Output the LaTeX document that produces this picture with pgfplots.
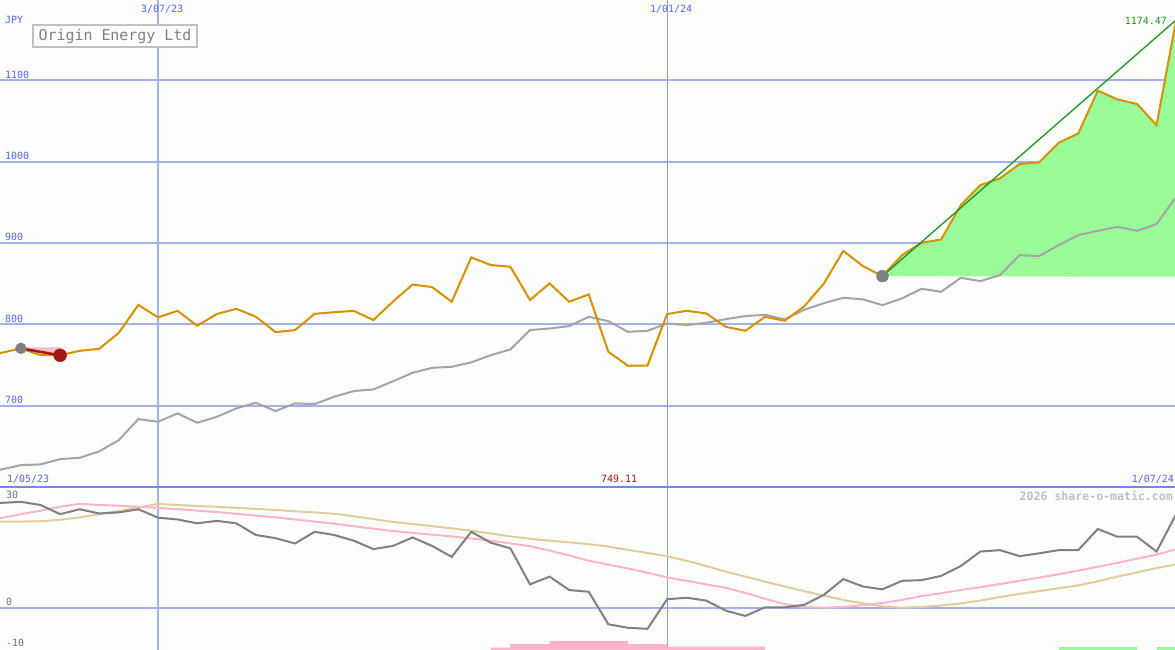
\documentclass[border=0pt]{standalone}
\usepackage{pgfplots}
\pgfplotsset{compat=1.18}
\usepackage{fontspec}
\setmonofont{DejaVu Sans Mono}
\definecolor{bg}{RGB}{252,254,252}
\definecolor{gridb}{RGB}{162,176,240}
\definecolor{gridt}{RGB}{140,156,244}
\definecolor{sepb}{RGB}{116,132,240}
\definecolor{lblb}{RGB}{84,100,240}
\definecolor{orng}{RGB}{214,144,0}
\definecolor{gry}{RGB}{164,164,164}
\definecolor{dgry}{RGB}{128,128,128}
\definecolor{pnk}{RGB}{255,180,204}
\definecolor{tanc}{RGB}{226,204,158}
\definecolor{lgreen}{RGB}{152,251,152}
\definecolor{dgreen}{RGB}{32,148,32}
\definecolor{dred}{RGB}{164,24,24}
\definecolor{lpink}{RGB}{255,184,200}
\definecolor{boxg}{RGB}{192,192,192}
\definecolor{wmk}{RGB}{192,192,192}
\definecolor{lblg}{RGB}{112,112,112}

\pgfplotstableread{
k v
-9 757
-8 765
-7 770.5
-6 762.2
-5 762
-4 767.5
-3 770
-2 789.7
-1 824
0 808.6
1 816.7
2 798.3
3 812.7
4 819.2
5 809.4
6 790.5
7 793
8 813
9 815
10 816.7
11 805.3
12 828
13 849
14 845.9
15 827.8
16 882.4
17 873
18 870.9
19 830
20 850.4
21 827.8
22 836.9
23 766.3
24 749.11
25 749.3
26 812.7
27 816.7
28 813.5
29 797
30 792.1
31 809.3
32 804.4
33 822
34 850
35 890.5
36 871.7
37 859.4
38 885.2
39 900.4
40 904.5
41 946.7
42 971.3
43 979.6
44 997.2
45 999.3
46 1023.4
47 1034.9
48 1087.5
49 1076.8
50 1071
51 1045.2
52 1174.47
}\price

\pgfplotstableread{
k v
-9 619
-8 621.6
-7 626.9
-6 627.8
-5 634.3
-4 635.9
-3 643.8
-2 657.7
-1 683.5
0 680.2
1 690.5
2 679
3 686.3
4 696.7
5 703.6
6 693.4
7 702.8
8 702
9 711
10 718
11 720
12 730
13 740.5
14 746.6
15 747.8
16 753.3
17 762.2
18 769.2
19 793
20 795
21 797.9
22 809.3
23 804
24 790.9
25 792.1
26 801.2
27 799.1
28 802
29 806.5
30 810.2
31 811.8
32 806.2
33 818
34 826
35 832.7
36 830.8
37 823.7
38 832
39 843.8
40 840.1
41 857.3
42 853.3
43 860.6
44 885.2
45 884
46 897.5
47 909.8
48 915.1
49 920
50 915.1
51 923.4
52 957
}\avg

\pgfplotstableread{
k v
-9 29.5
-8 29.7
-7 30.0
-6 29.1
-5 26.5
-4 27.9
-3 26.7
-2 27.0
-1 27.9
0 25.5
1 25.0
2 23.9
3 24.6
4 23.9
5 20.6
6 19.7
7 18.2
8 21.5
9 20.6
10 19.0
11 16.6
12 17.5
13 19.9
14 17.5
15 14.4
16 21.5
17 18.4
18 16.8
19 6.6
20 8.8
21 5.0
22 4.5
23 -4.7
24 -5.7
25 -6.0
26 2.4
27 2.8
28 2.0
29 -0.85
30 -2.35
31 0.1
32 0.1
33 0.8
34 3.6
35 8.1
36 6.0
37 5.2
38 7.6
39 7.8
40 9.0
41 11.8
42 15.9
43 16.3
44 14.6
45 15.4
46 16.3
47 16.3
48 22.3
49 20.1
50 20.1
51 15.9
52 26.5
}\osc

\pgfplotstableread{
k v
-9 24.5
-8 25.4
-7 26.5
-6 27.5
-5 28.6
-4 29.4
-3 29.1
-2 28.9
-1 28.6
0 28.3
1 27.9
2 27.5
3 27.1
4 26.6
5 26.1
6 25.6
7 25.0
8 24.4
9 23.8
10 23.1
11 22.4
12 21.7
13 21.2
14 20.7
15 20.2
16 19.6
17 19.0
18 18.2
19 17.4
20 16.2
21 14.8
22 13.3
23 12.2
24 11.1
25 9.9
26 8.6
27 7.6
28 6.6
29 5.6
30 4.2
31 2.5
32 1.0
33 0.2
34 0.0
35 0.2
36 0.7
37 1.3
38 2.2
39 3.3
40 4.1
41 5.0
42 5.8
43 6.7
44 7.6
45 8.5
46 9.5
47 10.5
48 11.6
49 12.7
50 13.9
51 15.0
52 16.6
}\pinkma

\pgfplotstableread{
k v
-9 24.4
-8 24.4
-7 24.4
-6 24.5
-5 24.9
-4 25.6
-3 26.5
-2 27.4
-1 28.4
0 29.4
1 29.1
2 28.8
3 28.6
4 28.3
5 28.0
6 27.7
7 27.3
8 27.0
9 26.6
10 25.9
11 25.1
12 24.3
13 23.7
14 23.1
15 22.5
16 21.8
17 21.0
18 20.2
19 19.5
20 19.0
21 18.5
22 18.0
23 17.3
24 16.4
25 15.5
26 14.6
27 13.3
28 11.8
29 10.2
30 8.8
31 7.4
32 6.0
33 4.7
34 3.4
35 2.2
36 1.2
37 0.4
38 0.0
39 0.2
40 0.6
41 1.2
42 2.0
43 3.0
44 3.9
45 4.7
46 5.5
47 6.3
48 7.5
49 8.8
50 10.0
51 11.2
52 12.3
}\tanma

\pgfplotsset{
  base/.style={
    scale only axis, width=1175bp, anchor=south west,
    xmin=-8.069, xmax=51.94,
    axis line style={draw=none}, tick style={draw=none},
    xtick={0}, xticklabels={}, yticklabels={},
    xmajorgrids, ymajorgrids,
    major grid style={gridb, line width=2bp},
  }
}

\begin{document}
\begin{tikzpicture}
\fill[bg] (0,0) rectangle (1175bp,650bp);

\begin{axis}[base, at={(0,163bp)}, height=487bp, ymin=600, ymax=1199,
  ytick={700,800,900,1000,1100}]
  \draw[gridt, line width=1.1bp] (axis cs:26,590) -- (axis cs:26,1210);
  \addplot[draw=none, fill=lpink] coordinates {(-7,771.8) (-6,762.2) (-5,762) (-5,771.8)} -- cycle;
  \addplot[only marks, mark=*, mark size=6bp, dgry] coordinates {(37,859.4)};
  \addplot[draw=none, fill=lgreen] coordinates {(37,859.4) (38,885.2) (39,900.4) (40,904.5) (41,946.7) (42,971.3) (43,979.6) (44,997.2) (45,999.3) (46,1023.4) (47,1034.9) (48,1087.5) (49,1076.8) (50,1071) (51,1045.2) (52,1174.47) (52,858.6)} -- cycle;
  \addplot[gry, line width=2bp] table[x=k, y=v] {\avg};
  \addplot[orng, line width=2bp] table[x=k, y=v] {\price};
  \addplot[dgreen, line width=1.3bp] coordinates {(37,859.4) (52,1174.47)};
  \addplot[only marks, mark=*, mark size=5.5bp, dgry] coordinates {(-7,770.5)};
  \addplot[dred, line width=2.5bp] coordinates {(-7,770.5) (-5,762)};
  \addplot[only marks, mark=*, mark size=6.5bp, dred] coordinates {(-5,762)};
\end{axis}

\begin{axis}[base, at={(0,0)}, height=163bp, ymin=-12, ymax=34.2, ytick={0}]
  \draw[gridt, line width=1.1bp] (axis cs:26,-13) -- (axis cs:26,35);
  \addplot[draw=none, fill=pnk] coordinates {(17,-13) (17,-11.3) (18,-11.3) (18,-10.3) (20,-10.3) (20,-9.4) (24,-9.4) (24,-10.3) (26,-10.3) (26,-11.05) (31,-11.05) (31,-13)} -- cycle;
  \addplot[draw=none, fill=lgreen] coordinates {(46,-13) (46,-11.05) (50,-11.05) (50,-13)} -- cycle;
  \addplot[draw=none, fill=lgreen] coordinates {(51,-13) (51,-11.05) (53,-11.05) (53,-13)} -- cycle;
  \addplot[tanc, line width=2bp] table[x=k, y=v] {\tanma};
  \addplot[pnk, line width=2bp] table[x=k, y=v] {\pinkma};
  \addplot[dgry, line width=2bp] table[x=k, y=v] {\osc};
\end{axis}

\draw[sepb, line width=2bp] (0,163bp) -- (1175bp,163bp);

\begin{scope}[every node/.style={inner sep=0pt, font=\ttfamily\fontsize{10}{10}\selectfont}]
  \node[anchor=base west, text=lblb] at (5bp,626bp) {JPY};
  \node[anchor=base west, text=lblb] at (5bp,571.7bp) {1100};
  \node[anchor=base west, text=lblb] at (5bp,490.3bp) {1000};
  \node[anchor=base west, text=lblb] at (5bp,409bp) {900};
  \node[anchor=base west, text=lblb] at (5bp,327.7bp) {800};
  \node[anchor=base west, text=lblb] at (5bp,246.4bp) {700};
  \node[anchor=base west, text=lblb] at (141bp,637bp) {3/07/23};
  \node[anchor=base west, text=lblb] at (650bp,637bp) {1/01/24};
  \node[anchor=base west, text=lblb] at (7bp,167bp) {1/05/23};
  \node[anchor=base east, text=lblb] at (1174bp,167bp) {1/07/24};
  \node[anchor=base, text=dred] at (619bp,167bp) {749.11};
  \node[anchor=base east, text=dgreen] at (1167bp,625bp) {1174.47};
  \node[anchor=base west, text=lblg] at (6bp,151bp) {30};
  \node[anchor=base west, text=lblg] at (6bp,44.3bp) {0};
  \node[anchor=base west, text=lblg] at (6bp,4bp) {-10};
  \node[anchor=base east, text=wmk, font=\ttfamily\bfseries\fontsize{11.6}{11.6}\selectfont] at (1173bp,149bp) {2026 share-o-matic.com};
  \node[draw=boxg, line width=2bp, fill=bg, text=dgry, font=\ttfamily\fontsize{15}{15}\selectfont, minimum width=164bp, minimum height=22bp, anchor=center] at (115bp,614bp) {Origin Energy Ltd};
\end{scope}

\pgfresetboundingbox
\useasboundingbox (0,0) rectangle (1175bp,650bp);
\end{tikzpicture}
\end{document}
